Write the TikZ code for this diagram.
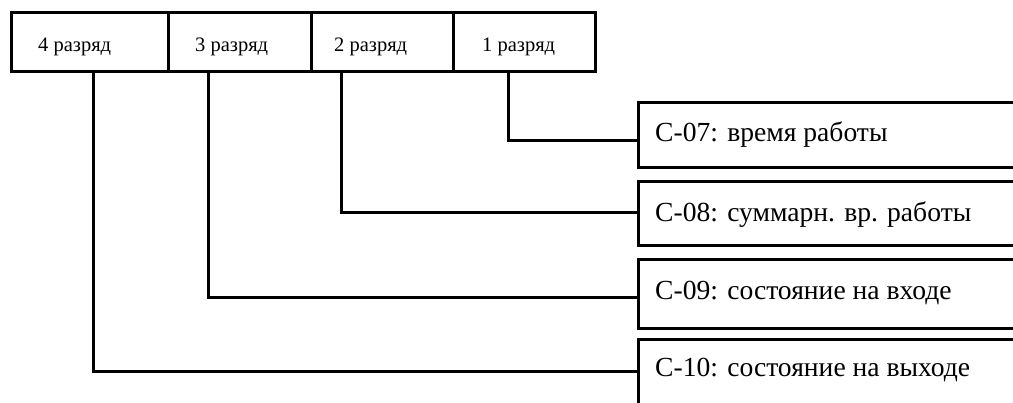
\documentclass[tikz,border=0pt]{standalone}
\usepackage{fontspec}
\setmainfont{Liberation Serif}
\begin{document}
\begin{tikzpicture}[x=1pt,y=-1pt,
  cell/.style={draw, line width=3pt, minimum height=59pt, inner sep=0pt, anchor=north west},
  cellt/.style={anchor=base west, inner sep=0pt, font=\fontsize{20.5}{24}\selectfont},
  pbox/.style={draw, line width=3.3pt, minimum width=420pt, inner sep=0pt, anchor=north west},
  pboxt/.style={anchor=base west, inner sep=0pt, font=\fontsize{27.6}{32}\selectfont},
  conn/.style={line width=3pt}]
\useasboundingbox (0,0) rectangle (1013,403);
\clip (0,0) rectangle (1013,403);
\fill[white] (0,0) rectangle (1013,403);
% top register cells
\node[cell, minimum width=157.5pt] (r4) at (9.5,11) {};
\node[cell, minimum width=143pt] (r3) at (167,11) {};
\node[cell, minimum width=142pt] (r2) at (310,11) {};
\node[cell, minimum width=142pt] (r1) at (452,11) {};
\node[cellt] (t4) at (38,52) {4 разряд};
\node[cellt] (t3) at (195,52) {3 разряд};
\node[cellt] (t2) at (334,52) {2 разряд};
\node[cellt] (t1) at (482,52) {1 разряд};
% parameter boxes
\node[pbox, minimum height=65pt] (c07) at (637,101) {};
\node[pbox, minimum height=64pt] (c08) at (637,180) {};
\node[pbox, minimum height=69pt] (c09) at (637,258) {};
\node[pbox, minimum height=70pt] (c10) at (637,338) {};
\node[pboxt] (l07) at (655,141.5) {С-07: время работы};
\node[pboxt] (l08) at (655,222) {С-08: суммарн. вр. работы};
\node[pboxt] (l09) at (655,300) {С-09: состояние на входе};
\node[pboxt] (l10) at (655,377) {С-10: состояние на выходе};
% connectors
\coordinate (p1) at (508,70);
\coordinate (p2) at (341,70);
\coordinate (p3) at (208,70);
\coordinate (p4) at (93,70);
\coordinate (q1) at (637,141);
\coordinate (q2) at (637,213);
\coordinate (q3) at (637,298);
\coordinate (q4) at (637,372);
\draw[conn] (p1) |- (q1);
\draw[conn] (p2) |- (q2);
\draw[conn] (p3) |- (q3);
\draw[conn] (p4) |- (q4);
\end{tikzpicture}
\end{document}
